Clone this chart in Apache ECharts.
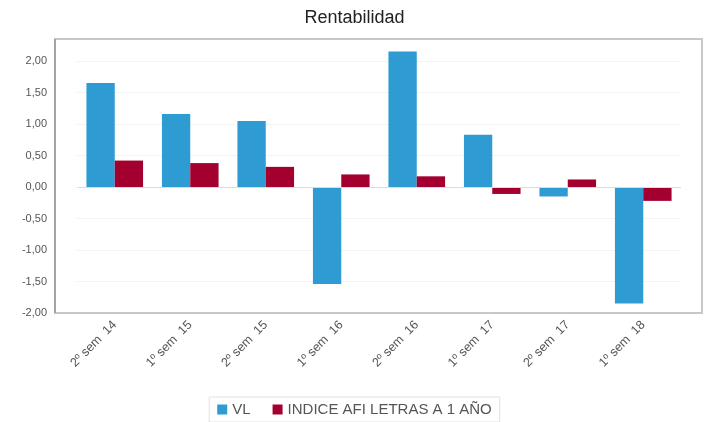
<!DOCTYPE html>
<html>
<head>
<meta charset="utf-8">
<script src="https://cdn.jsdelivr.net/npm/echarts@6/dist/echarts.min.js"></script>
<style>
html,body{margin:0;padding:0;background:#fff;}
#c{width:709px;height:422px;}
</style>
</head>
<body>
<div id="c"></div>
<script>
const categories = ["2º sem  14", "1º sem  15", "2º sem  15", "1º sem  16", "2º sem  16", "1º sem  17", "2º sem  17", "1º sem  18"];
const vlValues = [1.65, 1.16, 1.05, -1.54, 2.15, 0.83, -0.15, -1.85];
const indiceValues = [0.42, 0.38, 0.32, 0.20, 0.17, -0.11, 0.12, -0.22];
const seriesNames = ["VL", "INDICE AFI LETRAS A 1 AÑO"];
const titleText = "Rentabilidad";

const chart = echarts.init(document.getElementById('c'), null, {renderer: 'canvas'});
const fmt = v => { const s = Math.abs(v).toFixed(2).replace('.', ','); return (v < -1e-9 ? '-' : '') + s; };
chart.setOption({
  animation: false,
  backgroundColor: '#fff',
  textStyle: {fontFamily: '"Liberation Sans", Arial, sans-serif'},
  title: {
    text: titleText, left: 'center', top: 4,
    textStyle: {fontSize: 18, fontWeight: 'normal', color: '#222', fontFamily: '"Liberation Sans", Arial, sans-serif'}
  },
  legend: {
    bottom: 0, left: 'center',
    itemWidth: 10, itemHeight: 10, itemGap: 22,
    icon: 'rect',
    padding: [5, 8],
    borderColor: '#e2e2e2', borderWidth: 1,
    textStyle: {fontSize: 15, color: '#555', fontFamily: '"Liberation Sans Narrow", "Liberation Sans", Arial, sans-serif'},
    data: seriesNames
  },
  grid: {left: 77, right: 28, top: 39, bottom: 109, containLabel: false},
  xAxis: {
    type: 'category',
    data: categories,
    axisLine: {show: false, onZero: false},
    axisTick: {show: false},
    axisLabel: {rotate: 45, interval: 0, margin: 10, fontSize: 12.5, color: '#555'}
  },
  yAxis: {
    type: 'value',
    min: -2, max: 2.35, interval: 0.5,
    axisLine: {show: false},
    axisTick: {show: false},
    splitLine: {show: true, lineStyle: {color: '#f3f3f3', width: 1}},
    axisLabel: {margin: 30, fontSize: 11, color: '#555', showMaxLabel: false, formatter: fmt}
  },
  series: [
    {
      name: seriesNames[0], type: 'bar', data: vlValues,
      barGap: '0%', barCategoryGap: '25%',
      itemStyle: {color: '#2e9bd3'},
      markLine: {
        silent: true, symbol: 'none', label: {show: false},
        lineStyle: {color: '#dcdcdc', type: 'solid', width: 1},
        data: [{yAxis: 0}]
      }
    },
    {
      name: seriesNames[1], type: 'bar', data: indiceValues,
      itemStyle: {color: '#a4002f'}
    }
  ],
  graphic: [
    {type: 'rect', shape: {x: 55, y: 39, width: 647, height: 274}, style: {fill: 'none', stroke: '#c8c8c8', lineWidth: 2}, silent: true, z: 10},
    {type: 'line', shape: {x1: 55, y1: 39, x2: 55, y2: 313}, style: {stroke: '#999', lineWidth: 1.5}, silent: true, z: 11}
  ]
});
</script>
</body>
</html>
